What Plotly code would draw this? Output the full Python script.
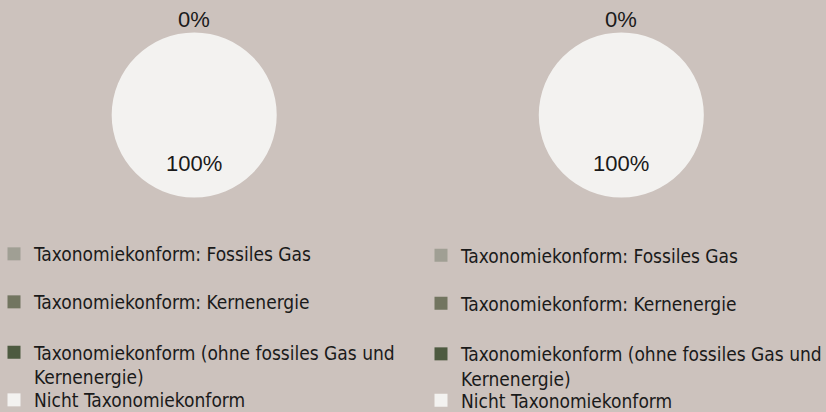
import math
import plotly.graph_objects as go

# ---------------- data ----------------
categories = [
    "Taxonomiekonform: Fossiles Gas",
    "Taxonomiekonform: Kernenergie",
    "Taxonomiekonform (ohne fossiles Gas und Kernenergie)",
    "Nicht Taxonomiekonform",
]
legend_labels = [
    "Taxonomiekonform: Fossiles Gas",
    "Taxonomiekonform: Kernenergie",
    "Taxonomiekonform (ohne fossiles Gas und<br>Kernenergie)",
    "Nicht Taxonomiekonform",
]
colors = ["#A09F94", "#727560", "#4D5A40", "#F3F2F0"]
values_left = [0, 0, 0, 100]
values_right = [0, 0, 0, 100]

# ---------------- layout geometry ----------------
W, H = 826, 412
R = 82.5
BG = "#CCC2BD"
TXT = "#1A1A1A"
LEG_FONT = "DejaVu Sans Condensed, Liberation Sans Narrow, Liberation Sans, sans-serif"
LAB_FONT = "Liberation Sans, Arial, sans-serif"

panels = [
    dict(values=values_left, cx=194.2, cy=115.0, leg_x=-6, leg_y=[254, 302, 364.8, 400]),
    dict(values=values_right, cx=621.3, cy=115.0, leg_x=421, leg_y=[255.5, 303.5, 366.5, 400.5]),
]

fig = go.Figure()
annotations = []
layout_legends = {}
n = 0
for p in panels:
    cx, cy = p["cx"], p["cy"]
    fig.add_trace(go.Pie(
        labels=categories,
        values=p["values"],
        marker=dict(colors=colors, line=dict(width=0)),
        textinfo="none",
        sort=False,
        direction="clockwise",
        rotation=0,
        showlegend=False,
        hoverinfo="label+percent",
        domain=dict(x=[(cx - R) / W, (cx + R) / W], y=[1 - (cy + R) / H, 1 - (cy - R) / H]),
    ))

    # slice labels (clockwise from 12 o'clock)
    total = sum(p["values"])
    cum = 0.0
    seen = set()
    for v in p["values"]:
        share = v / total * 100
        mid = (cum + v / 2) / total * 2 * math.pi
        cum += v
        txt = f"{share:.0f}%"
        if txt in seen:
            continue
        seen.add(txt)
        dist = R + 12.5 if v == 0 else 0.59 * R
        px = cx + dist * math.sin(mid)
        py = cy - dist * math.cos(mid)
        annotations.append(dict(
            x=px / W, y=1 - py / H, xref="paper", yref="paper",
            text=txt, showarrow=False, xanchor="center", yanchor="middle",
            font=dict(family=LAB_FONT, size=22, color=TXT),
        ))

    # one legend per entry so that the spacing can follow the reference
    for i, lab in enumerate(legend_labels):
        n += 1
        key = "legend" if n == 1 else f"legend{n}"
        fig.add_trace(go.Scatter(
            x=[None], y=[None], mode="markers",
            marker=dict(symbol="square", size=13, color=colors[i], line=dict(width=0)),
            name=lab, legend=key, showlegend=True, hoverinfo="skip",
        ))
        layout_legends[key] = dict(
            x=p["leg_x"] / W, y=1 - p["leg_y"][i] / H,
            xanchor="left", yanchor="middle",
            bgcolor="rgba(0,0,0,0)", borderwidth=0,
            font=dict(family=LEG_FONT, size=19, color=TXT),
            valign="top", itemclick=False, itemdoubleclick=False,
        )

fig.update_layout(
    width=W, height=H,
    margin=dict(l=0, r=0, t=0, b=0, autoexpand=False),
    paper_bgcolor=BG, plot_bgcolor=BG,
    xaxis=dict(visible=False), yaxis=dict(visible=False),
    annotations=annotations,
    **layout_legends,
)

fig.write_html(
    "out.html",
    config={"displayModeBar": False},
    post_script="document.body.style.margin='0';document.body.style.overflow='hidden';",
)
